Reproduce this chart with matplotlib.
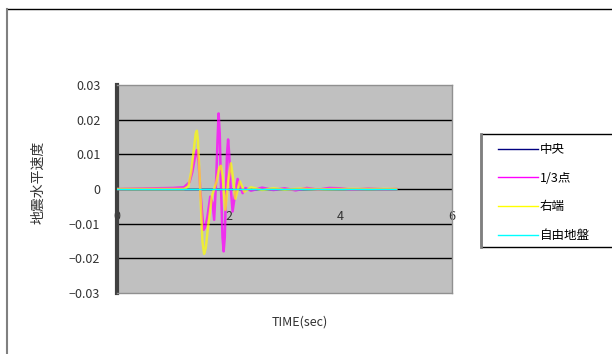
import matplotlib
matplotlib.use('Agg')
import matplotlib.pyplot as plt
from matplotlib.patches import Rectangle
from matplotlib.lines import Line2D

plt.rcParams['font.family'] = ['Noto Sans CJK JP', 'DejaVu Sans']

# series data (time in sec, velocity)
t_center = [0.0, 5.0]
v_center = [0.0, 0.0]

t_third = [0.0, 1.0, 1.2, 1.30, 1.35, 1.40, 1.43, 1.46, 1.50, 1.55, 1.58, 1.62, 1.67,
           1.71, 1.74, 1.78, 1.80, 1.82, 1.84, 1.86, 1.89, 1.91, 1.93, 1.95, 1.97,
           1.99, 2.01, 2.03, 2.07, 2.11, 2.16, 2.20, 2.25, 2.30, 2.40, 2.6, 2.8,
           3.0, 3.2, 3.4, 3.6, 3.8, 4.0, 4.2, 4.5, 4.8, 5.0]
v_third = [0.0, 0.0003, 0.0005, 0.002, 0.005, 0.0095, 0.0112, 0.008, -0.002,
           -0.0118, -0.011, -0.008, -0.0022, -0.004, -0.0089, 0.004, 0.014, 0.0218,
           0.016, 0.002, -0.014, -0.018, -0.014, -0.002, 0.01, 0.0143, 0.01, 0.002,
           -0.0065, -0.002, 0.0029, 0.001, -0.0012, 0.0003, -0.0005, 0.0004,
           -0.0003, 0.0002, -0.0004, 0.0003, -0.0002, 0.0003, 0.0002, -0.0002,
           0.0001, -0.0001, 0.0]

t_right = [0.0, 1.2, 1.28, 1.33, 1.38, 1.41, 1.43, 1.45, 1.49, 1.53, 1.56, 1.59,
           1.63, 1.70, 1.78, 1.83, 1.86, 1.89, 1.94, 1.99, 2.04, 2.08, 2.12,
           2.20, 2.28, 2.4, 2.6, 2.8, 3.0, 3.3, 3.6, 4.0, 4.5, 5.0]
v_right = [0.0, 0.0, 0.0008, 0.005, 0.012, 0.016, 0.0168, 0.014, 0.0, -0.015,
           -0.0187, -0.017, -0.011, -0.002, 0.002, 0.006, 0.0067, 0.004, -0.006,
           0.002, 0.0074, 0.003, -0.0028, 0.0022, -0.0008, 0.0005, -0.0003,
           0.0002, -0.0002, 0.0001, -0.0001, 0.0, 0.0, 0.0]

t_free = [0.0, 5.0]
v_free = [0.0, 0.0]

labels = ['中央', '1/3点', '右端', '自由地盤']
colors = ['#000080', '#ff00ff', '#ffff00', '#00ffff']
xticks = [0, 2, 4, 6]
yticks = [-0.03, -0.02, -0.01, 0, 0.01, 0.02, 0.03]
ytick_labels = ['−0.03', '−0.02', '−0.01', '0', '0.01', '0.02', '0.03']

W, H = 612, 354
fig = plt.figure(figsize=(W / 100, H / 100), dpi=100)
fig.patch.set_facecolor('white')

# outer chart frame
fig.add_artist(Line2D([7 / W, 1.0], [1 - 9 / H, 1 - 9 / H], transform=fig.transFigure,
                      color='black', lw=1))
fig.add_artist(Line2D([7 / W, 7 / W], [0.0, 1 - 9 / H], transform=fig.transFigure,
                      color='#808080', lw=1.5))

ax = fig.add_axes([117 / W, 1 - 293 / H, (452 - 117) / W, (293 - 85) / H])
ax.set_facecolor('#c0c0c0')

for y in [-0.02, -0.01, 0, 0.01, 0.02]:
    ax.axhline(y, color='black', lw=1, zorder=1)

ax.plot(t_center, v_center, color=colors[0], lw=1, zorder=2)
ax.plot(t_third, v_third, color=colors[1], lw=1.8, alpha=0.75, zorder=3)
ax.plot(t_right, v_right, color=colors[2], lw=1.8, alpha=0.7, zorder=4)
ax.plot(t_free, v_free, color=colors[3], lw=1, zorder=5)

ax.set_xlim(0, 6)
ax.set_ylim(-0.03, 0.03)
ax.set_xticks(xticks)
ax.set_xticklabels([str(x) for x in xticks])
ax.set_yticks(yticks)
ax.set_yticklabels(ytick_labels)
ax.tick_params(axis='x', length=0, pad=-60, labelsize=9, colors='#333333')
ax.tick_params(axis='y', length=0, pad=12, labelsize=9, colors='#333333')

ax.spines['left'].set_color('#404040')
ax.spines['left'].set_linewidth(3)
for s in ['top', 'bottom', 'right']:
    ax.spines[s].set_color('#909090')
    ax.spines[s].set_linewidth(1)

fig.text(38 / W, 1 - 182 / H, '地震水平速度', rotation=90, ha='center', va='center',
         fontsize=10, color='#333333')
fig.text(300 / W, 1 - 322 / H, 'TIME(sec)', ha='center', va='center',
         fontsize=9, color='#333333')

# legend box
fig.add_artist(Rectangle((481 / W, 1 - 247 / H), (W - 481) / W + 0.01, (247 - 134) / H,
                         transform=fig.transFigure, fill=False, edgecolor='black', lw=1))
fig.add_artist(Line2D([481 / W, 481 / W], [1 - 247 / H, 1 - 134 / H],
                      transform=fig.transFigure, color='#808080', lw=2))
handles = [Line2D([], [], color=c, lw=1) for c in colors]
ax.legend(handles, labels, loc='upper left', bbox_to_anchor=(498 / W, 1 - 143 / H),
          bbox_transform=fig.transFigure, frameon=False, fontsize=9,
          borderpad=0, borderaxespad=0, handlelength=3.2, handletextpad=0.15,
          labelspacing=1.25)

fig.savefig('out.png', dpi=100)
